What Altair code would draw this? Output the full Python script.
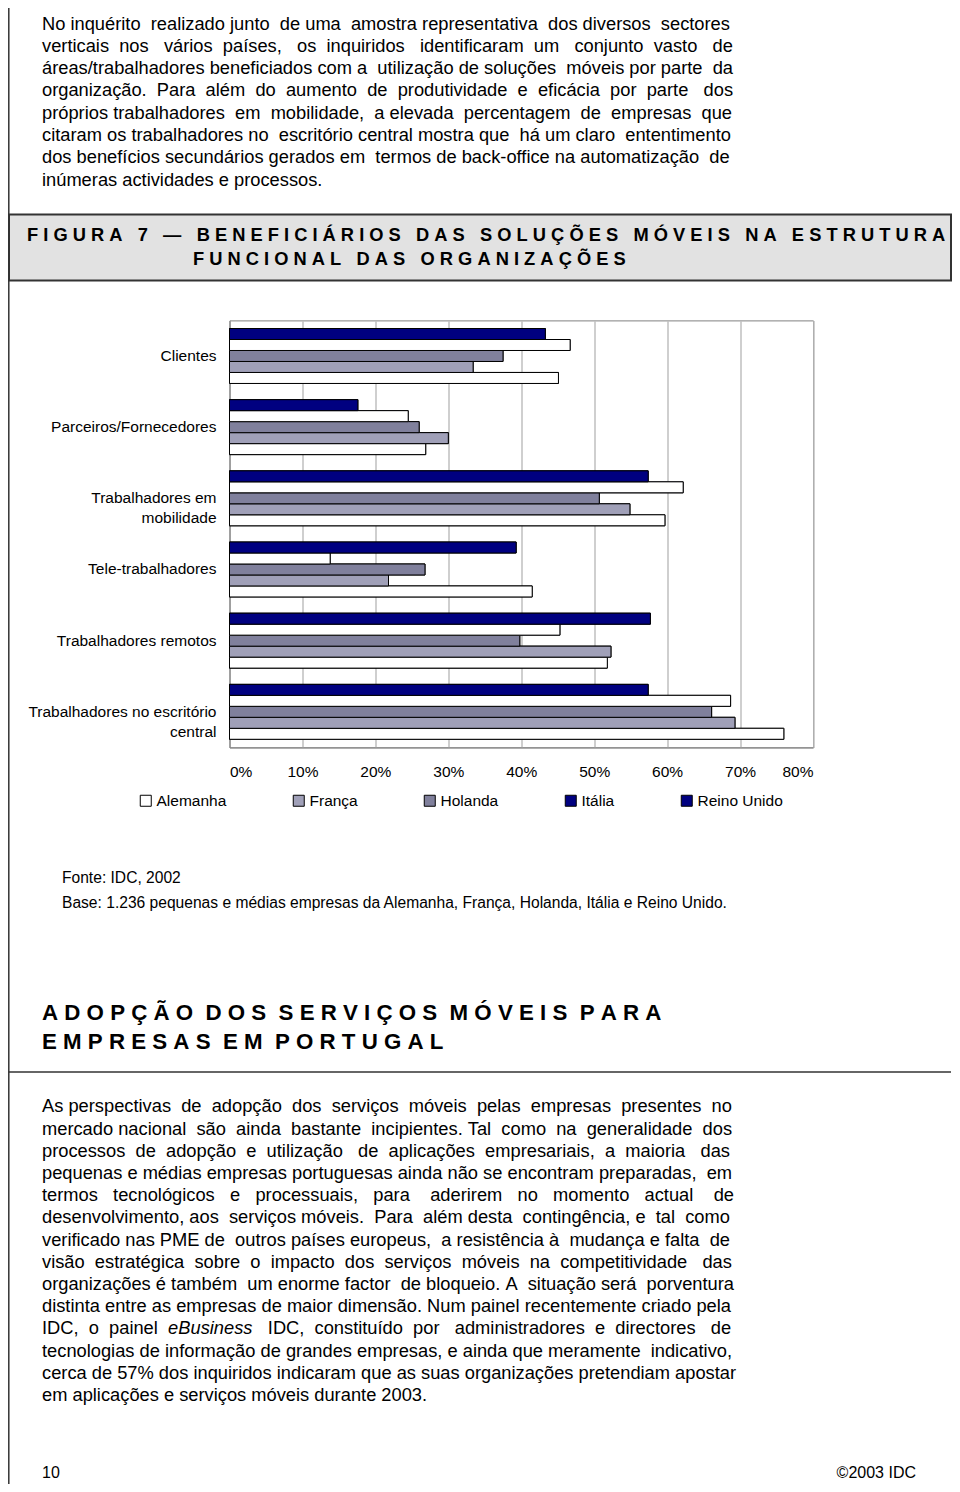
import altair as alt
import pandas as pd

# ---------------- data ----------------
categories = [
    "Clientes",
    "Parceiros/Fornecedores",
    "Trabalhadores em mobilidade",
    "Tele-trabalhadores",
    "Trabalhadores remotos",
    "Trabalhadores no escritório central",
]
series = ["Alemanha", "França", "Holanda", "Itália", "Reino Unido"]
alemanha = [45.1, 26.9, 59.7, 41.5, 51.8, 76.0]
franca = [33.4, 30.0, 54.9, 21.8, 52.3, 69.3]
holanda = [37.5, 26.0, 50.7, 26.8, 39.8, 66.1]
italia = [46.7, 24.5, 62.2, 13.8, 45.3, 68.7]
reino_unido = [43.3, 17.6, 57.4, 39.3, 57.7, 57.4]
x_ticks = [0, 10, 20, 30, 40, 50, 60, 70, 80]

para1 = [
    "No inquérito realizado junto de uma amostra representativa dos diversos sectores",
    "verticais nos vários países, os inquiridos identificaram um conjunto vasto de",
    "áreas/trabalhadores beneficiados com a utilização de soluções móveis por parte da",
    "organização. Para além do aumento de produtividade e eficácia por parte dos",
    "próprios trabalhadores em mobilidade, a elevada percentagem de empresas que",
    "citaram os trabalhadores no escritório central mostra que há um claro ententimento",
    "dos benefícios secundários gerados em termos de back-office na automatização de",
    "inúmeras actividades e processos.",
]
fig_title = [
    "FIGURA 7 — BENEFICIÁRIOS DAS SOLUÇÕES MÓVEIS NA ESTRUTURA",
    "FUNCIONAL DAS ORGANIZAÇÕES",
]
source_lines = [
    "Fonte: IDC, 2002",
    "Base: 1.236 pequenas e médias empresas da Alemanha, França, Holanda, Itália e Reino Unido.",
]
heading2 = ["ADOPÇÃO DOS SERVIÇOS MÓVEIS PARA", "EMPRESAS EM PORTUGAL"]
para2 = [
    "As perspectivas de adopção dos serviços móveis pelas empresas presentes no",
    "mercado nacional são ainda bastante incipientes. Tal como na generalidade dos",
    "processos de adopção e utilização de aplicações empresariais, a maioria das",
    "pequenas e médias empresas portuguesas ainda não se encontram preparadas, em",
    "termos tecnológicos e processuais, para aderirem no momento actual de",
    "desenvolvimento, aos serviços móveis. Para além desta contingência, e tal como",
    "verificado nas PME de outros países europeus, a resistência à mudança e falta de",
    "visão estratégica sobre o impacto dos serviços móveis na competitividade das",
    "organizações é também um enorme factor de bloqueio. A situação será porventura",
    "distinta entre as empresas de maior dimensão. Num painel recentemente criado pela",
    "IDC, o painel eBusiness IDC, constituído por administradores e directores de",
    "tecnologias de informação de grandes empresas, e ainda que meramente indicativo,",
    "cerca de 57% dos inquiridos indicaram que as suas organizações pretendiam apostar",
    "em aplicações e serviços móveis durante 2003.",
]
italic_word = "eBusiness"
footer_left = "10"
footer_right = "©2003 IDC"

df = pd.DataFrame(
    [
        {"category": c, "series": s, "value": v}
        for s, vals in zip(series, [alemanha, franca, holanda, italia, reino_unido])
        for c, v in zip(categories, vals)
    ]
)

# ---------------- layout / style ----------------
FONT = "Liberation Sans"
NB = "\u00a0"
PAD_L, PAD_T = 221.5, 312.4
PLOT_W, PLOT_H = 583.5, 427
PAD_R = 944 - PAD_L - PLOT_W
PAD_B = 1476 - PAD_T - PLOT_H
OX, OY = 8 + PAD_L, 8 + PAD_T  # page position of plot origin

NAVY = "#000080"
GRAY = "#80809c"
HATCH = "#a0a0b8"
legend_colors = ["#ffffff", HATCH, GRAY, NAVY, NAVY]
bar_colors = ["#ffffff", HATCH, GRAY, "#ffffff", NAVY]
offset_order = ["Reino Unido", "Itália", "Holanda", "França", "Alemanha"]

# Arial / Liberation Sans advance widths (1/1000 em)
REG = {" ": 278, NB: 278, ",": 278, ".": 278, ":": 278, ";": 278, "-": 333, "/": 278,
       "%": 889, "©": 737, "—": 1000, "–": 556, "(": 333, ")": 333}
for ch in "0123456789":
    REG[ch] = 556
REG.update(dict(zip("ABCDEFGHIJKLMNOPQRSTUVWXYZ",
                    [667, 667, 722, 722, 667, 611, 778, 722, 278, 500, 667, 556, 833, 722,
                     778, 667, 778, 722, 667, 611, 722, 667, 944, 667, 667, 611])))
REG.update(dict(zip("abcdefghijklmnopqrstuvwxyz",
                    [556, 556, 500, 556, 556, 278, 556, 556, 222, 222, 500, 222, 833, 556,
                     556, 556, 556, 333, 500, 278, 556, 500, 722, 500, 500, 500])))
for src, base in [("áàâãä", "a"), ("éèêë", "e"), ("óòôõö", "o"), ("úùûü", "u"),
                  ("ç", "c"), ("ÁÀÂÃ", "A"), ("ÉÊ", "E"), ("ÓÔÕ", "O"), ("Ú", "U"), ("Ç", "C")]:
    for ch in src:
        REG[ch] = REG[base]
for ch in "íìîï":
    REG[ch] = 278


def tw(s, size):
    return sum(REG.get(ch, 556) for ch in s) / 1000.0 * size


def justify_gaps(line, size, target):
    words = line.split(" ")
    gaps = len(words) - 1
    nat = sum(tw(w, size) for w in words) + gaps * tw(" ", size)
    sp = 0.278 * size
    extra = max(0, int(round((target - nat) / sp)))
    ks = []
    for i in range(1, gaps + 1):
        ks.append(1 + (extra * i) // gaps - (extra * (i - 1)) // gaps)
    return words, ks


def justified(line, size, target):
    words, ks = justify_gaps(line, size, target)
    out = words[0]
    for w, k in zip(words[1:], ks):
        out += NB * k + w
    return out


def spaced(text, k):
    return (NB * k).join(NB.join(list(w)) for w in text.split(" "))


_one = pd.DataFrame({"k": [0]})


def txt(s, xp, yp, size, weight="normal", style="normal", align="left"):
    return alt.Chart(pd.DataFrame({"t": [s]})).mark_text(
        x=xp - OX, y=yp - OY, fontSize=size, fontWeight=weight, fontStyle=style,
        align=align, baseline="middle", color="black", font=FONT,
    ).encode(text="t:N")


def rule(x1, y1, x2, y2, color="#333333", width=1.5):
    return alt.Chart(_one).mark_rule(color=color, strokeWidth=width).encode(
        x=alt.value(x1 - OX), y=alt.value(y1 - OY),
        x2=alt.value(x2 - OX), y2=alt.value(y2 - OY),
    )


layers = []

# title box
layers.append(
    alt.Chart(_one).mark_rect(fill="#e2e2e2", stroke="#333333", strokeWidth=2).encode(
        x=alt.value(9 - OX), x2=alt.value(951 - OX),
        y=alt.value(214.5 - OY), y2=alt.value(280.5 - OY),
    )
)
# left page border and section rule
layers.append(rule(8.8, 8, 8.8, 1484))
layers.append(rule(8.8, 1072, 951, 1072))

# paragraph 1
BODY = 18.3
TARGET = 733 - 42
for i, line in enumerate(para1):
    s = line if i == len(para1) - 1 else justified(line, BODY, TARGET)
    layers.append(txt(s, 42, 24.5 + i * 22.3, BODY))

# figure title
layers.append(txt(spaced(fig_title[0], 3), 27, 236, 18.3, weight="bold"))
layers.append(txt(spaced(fig_title[1], 3), 193, 260, 18.3, weight="bold"))

# source notes
layers.append(txt(source_lines[0], 62, 877.5, 15.6))
layers.append(txt(source_lines[1], 62, 903, 15.6))

# heading 2
layers.append(txt(spaced(heading2[0], 2), 42, 1013, 22.3, weight="bold"))
layers.append(txt(spaced(heading2[1], 2), 42, 1042, 22.3, weight="bold"))

# paragraph 2
for i, line in enumerate(para2):
    y = 1107.3 + i * 22.2
    if i == len(para2) - 1:
        layers.append(txt(line, 42, y, BODY))
    elif italic_word in line:
        words, ks = justify_gaps(line, BODY, TARGET)
        idx = words.index(italic_word)
        pre = words[0]
        for w, k in zip(words[1:idx], ks[:idx - 1]):
            pre += NB * k + w
        pre_w = tw(pre, BODY) + tw(NB * ks[idx - 1], BODY)
        post = words[idx + 1]
        for w, k in zip(words[idx + 2:], ks[idx + 1:]):
            post += NB * k + w
        it_x = 42 + pre_w
        post_x = it_x + tw(italic_word, BODY) + tw(NB * ks[idx], BODY)
        layers.append(txt(pre, 42, y, BODY))
        layers.append(txt(italic_word, it_x, y, BODY, style="italic"))
        layers.append(txt(post, post_x, y, BODY))
    else:
        layers.append(txt(justified(line, BODY, TARGET), 42, y, BODY))

# footer
layers.append(txt(footer_left, 42, 1473, 16))
layers.append(txt(footer_right, 916, 1473, 16, align="right"))

# ---------------- bar chart ----------------
y_label_expr = (
    "datum.label == 'Trabalhadores em mobilidade' ? ['Trabalhadores em', 'mobilidade"
    + NB * 6
    + "'] : datum.label == 'Trabalhadores no escritório central' ? "
    "['Trabalhadores no escritório', 'central" + NB * 16 + "'] : datum.label"
)

x_enc = alt.X(
    "value:Q",
    scale=alt.Scale(domain=[0, 80], nice=False, zero=True),
    axis=alt.Axis(
        values=x_ticks, labelExpr="datum.value + '%'", title=None, grid=True,
        ticks=False, tickSize=0, labelPadding=17, gridColor="#bfbfbf", gridWidth=1.5,
        domainColor="#808080", labelFontSize=15.5, labelColor="black", labelFont=FONT,
    ),
)
y_enc = alt.Y(
    "category:N",
    sort=categories,
    scale=alt.Scale(paddingInner=0.228, paddingOuter=0.114),
    axis=alt.Axis(
        title=None, ticks=False, tickSize=0, labelExpr=y_label_expr, labelPadding=13.5,
        labelLineHeight=20, labelLimit=400, labelAlign="right", labelBaseline="middle",
        domainColor="#808080", labelFontSize=15.5, labelColor="black", labelFont=FONT,
    ),
)
yoff_enc = alt.YOffset("series:N", sort=offset_order,
                       scale=alt.Scale(paddingInner=0, paddingOuter=0))

bars_legend = alt.Chart(df).mark_bar(stroke="black", strokeWidth=1).encode(
    x=x_enc, y=y_enc, yOffset=yoff_enc,
    color=alt.Color(
        "series:N", sort=series,
        scale=alt.Scale(domain=series, range=legend_colors),
        legend=alt.Legend(
            title=None, orient="none", legendX=138 - OX, legendY=793 - OY,
            direction="horizontal", columns=5, gridAlign="none", columnPadding=64,
            symbolType="square", symbolSize=121, symbolStrokeColor="black",
            symbolStrokeWidth=1, symbolOpacity=1, labelFontSize=15.5, labelOffset=3,
            labelColor="black", labelFont=FONT, padding=0,
        ),
    ),
)
bars_top = alt.Chart(df).mark_bar(stroke="black", strokeWidth=1).encode(
    x=x_enc, y=y_enc, yOffset=yoff_enc,
    fill=alt.Fill("series:N", sort=series,
                  scale=alt.Scale(domain=series, range=bar_colors), legend=None),
)

layers.append(bars_legend)
layers.append(bars_top)

chart = (
    alt.layer(*layers)
    .properties(
        width=PLOT_W,
        height=PLOT_H,
        autosize=alt.AutoSizeParams(type="none"),
        padding={"left": PAD_L, "top": PAD_T, "right": PAD_R, "bottom": PAD_B},
        background="white",
    )
    .configure(font=FONT)
    .configure_view(stroke="#808080", strokeWidth=1)
)

chart.save("out.html", embed_options={"renderer": "svg", "actions": False})
